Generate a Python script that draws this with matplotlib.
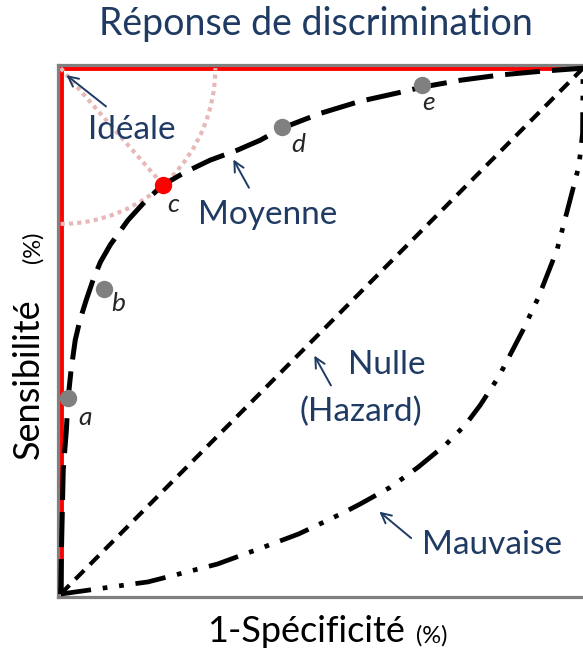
import numpy as np
import matplotlib.pyplot as plt
from matplotlib.patches import Arc

plt.rcParams['font.family'] = ['Lato', 'DejaVu Sans']

# courbes ROC (1-spécificité, sensibilité)
moy_x = [0, 0.002, 0.005, 0.011, 0.014, 0.020, 0.028, 0.037, 0.049, 0.062, 0.076, 0.095,
         0.129, 0.162, 0.196, 0.238, 0.286, 0.338, 0.382, 0.424, 0.497, 0.573, 0.650,
         0.692, 0.765, 0.841, 0.918, 1.0]
moy_y = [0, 0.103, 0.236, 0.312, 0.369, 0.426, 0.483, 0.521, 0.559, 0.597, 0.631, 0.664,
         0.711, 0.747, 0.778, 0.802, 0.825, 0.844, 0.863, 0.886, 0.914, 0.937, 0.954,
         0.964, 0.977, 0.987, 0.994, 1.0]

mauv_x = [0, 0.072, 0.137, 0.167, 0.234, 0.300, 0.388, 0.455, 0.483, 0.544, 0.573, 0.631,
          0.684, 0.738, 0.775, 0.803, 0.839, 0.885, 0.914, 0.950, 0.975, 0.992, 0.999, 1.0]
mauv_y = [0, 0.010, 0.019, 0.023, 0.040, 0.057, 0.089, 0.114, 0.127, 0.156, 0.171, 0.203,
          0.241, 0.285, 0.322, 0.359, 0.414, 0.502, 0.563, 0.654, 0.749, 0.814, 0.876, 1.0]

nulle_x = [0, 1]
nulle_y = [0, 1]

ideal_x = [0, 0, 1]
ideal_y = [0, 1, 1]

# points a..e
pt_names = ['a', 'b', 'c', 'd', 'e']
pt_x = [0.014, 0.083, 0.196, 0.424, 0.692]
pt_y = [0.373, 0.580, 0.778, 0.888, 0.968]
lab_x = [0.047, 0.110, 0.215, 0.455, 0.705]
lab_y = [0.335, 0.553, 0.740, 0.854, 0.935]

navy = '#1f3b63'
pink = '#e6b9b8'

fig = plt.figure(figsize=(5.83, 6.55), dpi=100)
ax = fig.add_axes([0.0995, 0.0885, 0.906, 0.812])
ax.set_xlim(-0.005, 1.006)
ax.set_ylim(-0.0057, 1.0057)
ax.set_xticks([])
ax.set_yticks([])
for s in ax.spines.values():
    s.set_color('#808080')
    s.set_linewidth(2.3)

# idéale
ax.plot(ideal_x, ideal_y, color='red', lw=3.5, solid_capstyle='butt', zorder=2)

# cercle rose autour du coin idéal, passant par c
r = np.hypot(pt_x[2], 1 - pt_y[2])
ax.add_patch(Arc((0, 1), 2 * r, 2 * r, theta1=270, theta2=360, color=pink, lw=3,
                 ls=(0, (1, 1)), zorder=2))
ax.plot([0, pt_x[2]], [1, pt_y[2]], color=pink, lw=3, ls=(0, (1, 1)), zorder=2)

# nulle
ax.plot(nulle_x, nulle_y, color='black', lw=3, ls=(0, (3, 2)), zorder=3)
# mauvaise
ax.plot(mauv_x, mauv_y, color='black', lw=3.4, ls=(0, (6.5, 2.5, 1, 2.5, 1, 2.5)), zorder=3)
# moyenne
ax.plot(moy_x, moy_y, color='black', lw=3.6, ls=(0, (7, 2.4)), zorder=4)

cols = ['#808080', '#808080', 'red', '#808080', '#808080']
for n, x, y, c, lx, ly in zip(pt_names, pt_x, pt_y, cols, lab_x, lab_y):
    ax.plot(x, y, 'o', color=c, ms=11.5, zorder=5, clip_on=False)
    ax.text(lx, ly, n, style='italic', fontsize=19, color='#262626',
            ha='center', va='center', zorder=6)

arw = dict(arrowstyle='->', color=navy, lw=1.4, mutation_scale=18)
ax.annotate('', xy=(0.007, 0.990), xytext=(0.091, 0.924), arrowprops=arw)
ax.text(0.137, 0.882, 'Idéale', color=navy, fontsize=24, ha='center', va='center')
ax.annotate('', xy=(0.328, 0.831), xytext=(0.363, 0.768), arrowprops=arw)
ax.text(0.397, 0.721, 'Moyenne', color=navy, fontsize=24, ha='center', va='center')
ax.annotate('', xy=(0.483, 0.458), xytext=(0.520, 0.392), arrowprops=arw)
ax.text(0.625, 0.435, 'Nulle', color=navy, fontsize=24, ha='center', va='center')
ax.text(0.575, 0.346, '(Hazard)', color=navy, fontsize=24, ha='center', va='center')
ax.annotate('', xy=(0.606, 0.160), xytext=(0.675, 0.103), arrowprops=arw)
ax.text(0.826, 0.093, 'Mauvaise', color=navy, fontsize=24, ha='center', va='center')

fig.text(316 / 583, 1 - 24 / 655, 'Réponse de discrimination', color=navy, fontsize=27,
         ha='center', va='center')
fig.text(306 / 583, 1 - 632 / 655, '1-Spécificité', fontsize=26, ha='center', va='center')
fig.text(432 / 583, 1 - 636 / 655, '(%)', fontsize=17, ha='center', va='center')
fig.text(28 / 583, 1 - 379 / 655, 'Sensibilité', fontsize=26, rotation=90,
         ha='center', va='center')
fig.text(33 / 583, 1 - 247 / 655, '(%)', fontsize=17, rotation=90, ha='center', va='center')

fig.savefig('out.png', dpi=100)
